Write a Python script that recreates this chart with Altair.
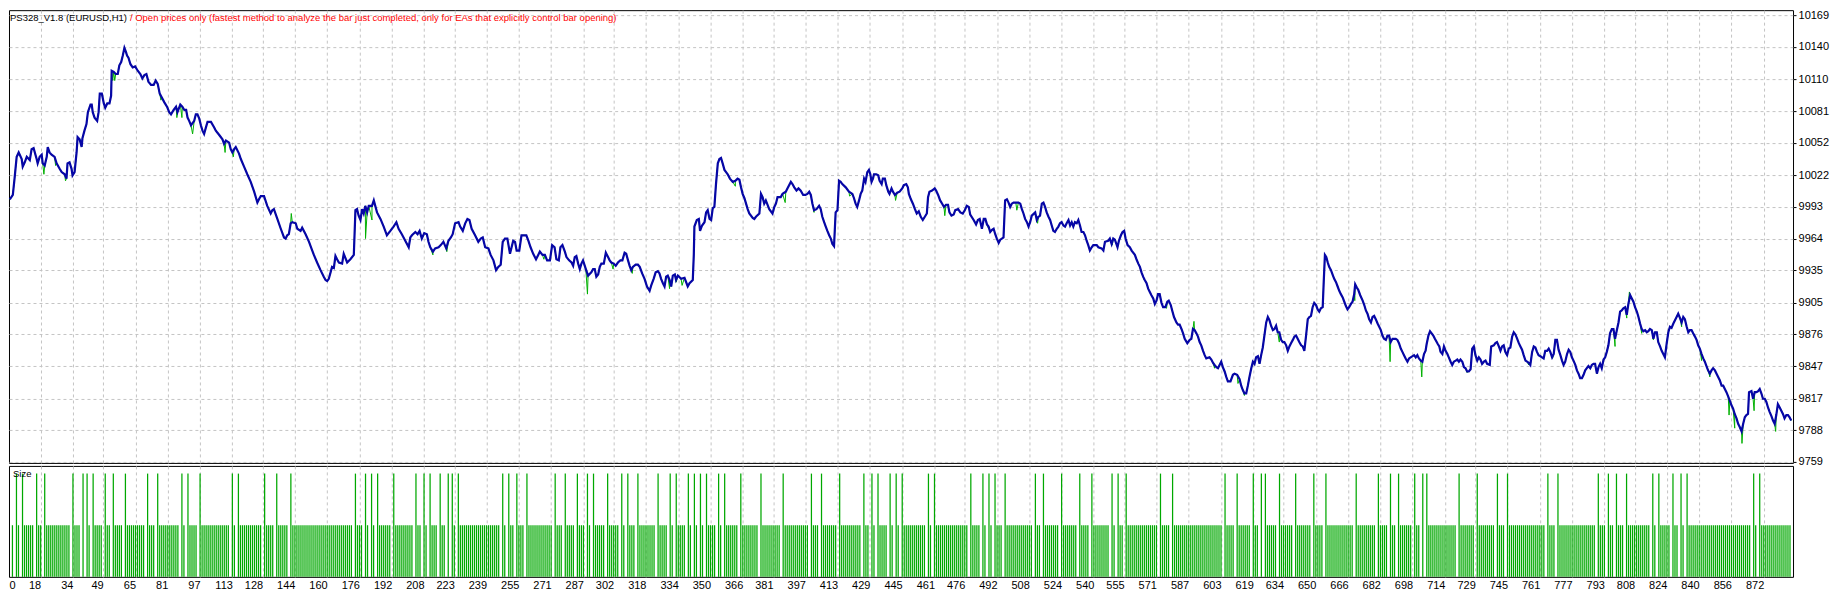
import altair as alt
import pandas as pd

# ---------------- data ----------------
trade = [
2.7,4.2,5.1,6.1,7.1,8.6,9.1,10.1,11.1,12.6,13.5,14.5,16.0,16.5,17.5,18.5,19.0,20.0,21.0,21.5,
22.4,23.4,24.9,25.9,27.4,28.4,29.9,30.8,31.3,32.3,33.3,33.8,34.8,35.8,36.3,37.3,38.3,38.7,39.7,40.7,
41.4,42.7,43.3,43.8,44.7,46.0,46.7,47.3,48.3,49.3,50.0,51.0,52.1,52.9,53.2,54.2,55.2,56.2,57.0,57.9,
58.7,59.5,60.3,60.8,61.5,62.5,63.6,64.8,66.1,67.4,68.4,69.4,70.4,71.4,72.7,74.0,75.0,76.0,77.0,77.9,
79.3,80.6,81.7,82.6,83.9,85.1,85.8,87.2,88.2,89.2,90.1,90.8,91.6,92.5,94.1,94.9,95.7,96.6,97.4,98.2,
99.0,99.9,100.7,102.4,104.0,104.8,106.5,108.1,108.9,109.8,111.4,112.2,113.0,113.9,114.7,116.3,117.2,118.8,120.4,122.1,
123.8,125.4,126.2,127.1,128.7,130.3,132.0,132.8,133.6,135.3,137.0,138.6,139.4,140.2,141.0,141.9,142.7,144.4,145.2,146.8,
147.6,149.3,151.0,152.6,153.4,155.0,156.7,158.3,159.2,160.0,160.8,161.7,162.4,163.3,164.1,164.9,165.8,167.4,168.2,169.9,
171.5,173.2,174.0,174.8,175.6,176.5,177.3,178.1,178.9,179.8,180.6,182.2,183.1,184.7,186.4,188.0,189.6,191.3,192.9,194.3,
195.4,197.0,198.7,200.4,201.2,202.0,203.7,204.8,205.8,206.9,208.1,209.4,210.2,211.1,212.4,213.5,215.2,216.3,217.6,219.0,
220.1,221.3,222.2,223.4,225.1,225.9,227.2,228.4,229.5,230.5,231.6,233.3,234.9,236.1,237.1,238.3,239.9,241.0,242.4,243.7,
244.8,246.0,247.0,248.1,249.3,250.6,251.4,252.2,253.1,253.9,255.2,256.3,257.5,258.7,259.7,260.8,262.1,263.5,264.6,265.4,
266.7,267.9,269.0,270.4,271.5,272.7,273.6,274.8,275.6,276.6,277.8,278.6,279.9,281.1,281.9,282.7,283.5,284.4,285.2,286.0,
286.8,288.2,289.3,290.9,291.8,292.6,293.4,294.3,295.1,295.9,297.1,298.1,299.2,300.0,300.8,302.0,303.0,304.1,305.3,306.3,
307.4,308.2,309.1,309.9,310.7,311.5,312.9,314.0,314.9,316.1,317.3,318.5,319.8,320.6,321.8,322.8,323.9,324.7,325.5,326.4,
327.2,328.0,328.8,329.7,330.5,331.3,332.3,332.9,333.8,335.4,337.1,338.7,339.6,341.2,341.7,342.0,343.2,344.2,344.8,345.8,
347.0,347.8,348.6,349.5,350.3,351.1,351.9,352.7,353.6,354.4,355.2,356.0,356.9,357.7,358.5,359.6,361.0,362.3,363.4,364.3,
365.1,365.9,366.8,367.6,368.4,369.2,370.9,371.7,372.5,374.2,375.0,375.8,376.6,377.4,379.1,380.7,381.6,382.4,383.2,384.8,
385.7,387.3,388.1,389.8,390.6,391.5,392.6,393.6,394.7,395.9,397.0,398.0,398.9,399.7,400.5,401.3,402.5,403.8,404.6,405.4,
406.3,407.1,407.9,408.8,409.6,410.4,411.2,412.0,412.9,413.7,414.5,415.3,417.0,418.6,420.3,421.1,421.9,422.7,423.6,424.4,
425.2,426.1,426.8,427.7,428.5,429.2,429.8,430.5,431.0,432.1,433.1,433.8,434.8,435.4,436.4,437.1,438.1,438.7,439.7,440.4,
441.4,442.5,443.7,445.0,445.8,447.0,447.8,448.3,449.3,450.3,451.3,452.2,453.2,454.2,455.2,456.2,457.2,457.8,458.5,459.8,
461.1,461.8,462.8,463.8,464.8,465.7,466.7,467.7,468.4,469.4,470.5,471.3,472.7,473.8,475.0,476.0,477.0,478.0,478.7,480.4,
481.6,482.5,483.4,484.5,485.4,486.2,487.0,487.8,488.6,489.5,490.3,491.1,491.9,492.8,493.6,494.4,495.2,496.0,496.9,497.7,
498.5,499.3,500.2,501.3,502.6,503.5,504.3,505.1,505.9,506.8,507.6,508.4,509.2,510.9,511.7,512.5,513.3,514.2,515.0,515.8,
516.6,517.5,518.3,519.1,519.9,520.7,521.6,522.4,523.2,524.0,524.9,525.7,526.5,527.4,528.2,529.0,529.8,530.6,531.5,532.3,
533.1,533.9,534.8,535.6,536.4,537.2,538.0,538.9,539.7,541.4,542.2,543.8,544.7,545.5,547.1,547.9,548.8,549.6,550.4,551.7,
552.4,553.4,554.2,555.0,555.7,556.7,557.8,558.7,560.3,561.1,562.0,562.8,563.6,564.4,565.2,566.1,566.9,567.7,568.5,569.4,
570.2,571.0,571.8,572.6,573.5,574.3,575.4,576.4,577.1,578.1,578.8,579.7,580.9,581.7,582.5,583.4,584.2,585.0,586.3,587.5,
588.3,589.1,589.9,590.8,591.6,592.4,593.2,594.1,594.9,595.7,597.3,598.2,599.0,599.8,600.7,601.5,602.3,603.1,603.9,604.8,
605.6,606.4,607.7,608.9,609.7,611.0,612.2,613.0,613.8,614.6,615.5,616.3,617.1,618.0,618.8,619.6,620.4,621.3,622.1,622.9,
623.7,624.5,625.4,626.2,627.0,627.8,628.7,629.5,630.3,631.1,631.9,632.8,633.6,634.4,635.3,636.1,636.9,637.7,638.6,639.4,
640.2,641.0,641.8,642.7,643.5,644.3,645.1,646.0,646.8,647.6,648.4,649.2,650.1,650.9,651.7,652.5,653.4,653.9,654.5,655.2,
655.9,656.6,657.5,658.3,659.1,660.0,660.8,661.6,662.4,663.3,664.1,664.9,665.7,666.5,667.4,668.2,669.0,669.5,670.3,671.0,
672.0,673.2,674.0,674.8,675.6,676.4,677.3,678.1,678.9,679.7,680.6,681.4,682.2,683.0,683.8,684.7,685.5,686.3,687.1,688.0,
689.6,690.4,691.2,692.1,692.9,693.7,694.5,695.4,696.2,697.0,698.7,699.5,700.3,701.1,702.0,702.8,703.6,704.4,704.9,705.8,
706.6,707.4,708.2,709.0,709.9,710.5,711.2,711.8,712.7,713.5,714.3,715.2,715.9,716.8,717.6,718.4,719.3,720.1,720.9,721.7,
722.6,723.4,724.2,725.0,725.8,726.7,727.5,728.3,729.1,730.0,730.8,731.6,732.4,733.3,734.1,734.9,736.2,736.9,738.2,739.0,
739.8,740.7,741.5,742.3,743.1,743.9,744.8,745.6,746.4,747.3,748.1,748.9,749.8,750.6,751.4,752.2,753.0,753.9,754.7,755.5,
756.3,757.2,758.0,758.8,759.6,760.4,761.3,762.1,762.9,763.7,764.6,765.4,766.2,767.1,767.9,768.7,769.5,770.3,771.2,772.0,
772.8,773.6,774.5,775.3,776.1,776.9,777.7,778.6,779.4,780.2,781.0,781.9,782.7,783.5,784.3,785.1,786.0,786.8,787.6,788.4,
789.3,790.1,790.9,791.7,792.6,793.4,794.2,795.0,795.8,796.7,797.5,798.3,799.2,800.0,800.8,801.6,802.4,803.3,804.1,804.9,
805.8,806.6,807.4,808.2,809.1,809.9,810.7,811.5,812.3,813.2,814.0,814.8,815.6,816.5,817.3,818.1,819.0,819.7,820.6,821.4,
822.2,823.0,823.9,824.7,825.5,826.3,827.2,828.0,828.8,829.6,830.5,831.3,832.1,832.9,833.8,834.6,835.4,836.2,837.0,837.9,
838.7,839.5,840.3,841.2,842.0,842.8,843.6,844.4,845.3,846.1,846.9,847.8,848.6,849.4,850.2,851.1,851.9,852.7,853.5,854.4,
855.2,856.0,856.8,857.6,858.5,859.3,860.1,861.0,861.8,862.6,863.4,864.2,864.7,865.9,866.7,867.5,868.4,869.2,870.0,870.8,
871.6,872.5,873.3,874.1,874.9,875.8,876.6,877.4,878.2,879.0,879.9,880.7,881.5,882.3,883.2,884.0,884.8,885.6,
]

balance = [
10000,10004,10020,10039,10043,10037,10030,10034,10039,10036,10046,10047,10037,10033,10039,10041,10033,10031,10039,10048,
10043,10041,10039,10033,10028,10025,10023,10019,10033,10034,10028,10022,10025,10043,10057,10055,10048,10056,10063,10069,
10080,10087,10087,10080,10075,10072,10080,10097,10097,10088,10084,10088,10088,10095,10118,10117,10115,10115,10123,10126,
10132,10139,10135,10132,10130,10124,10121,10122,10118,10115,10111,10114,10115,10108,10105,10105,10109,10106,10097,10094,
10089,10085,10080,10078,10082,10085,10080,10087,10085,10082,10082,10075,10072,10068,10072,10078,10078,10074,10068,10063,
10060,10066,10071,10071,10066,10063,10059,10055,10051,10054,10052,10046,10043,10046,10048,10042,10037,10030,10023,10016,
10007,9997,10000,10003,10003,9994,9987,9990,9991,9982,9973,9965,9964,9967,9968,9978,9979,9978,9973,9971,
9974,9968,9961,9953,9949,9942,9935,9929,9926,9925,9927,9933,9938,9937,9948,9945,9942,9941,9950,9942,
9945,9949,9990,9991,9985,9981,9991,9987,9994,9988,9994,9994,9999,9988,9982,9975,9967,9971,9975,9979,
9973,9968,9962,9956,9965,9967,9970,9968,9971,9964,9969,9968,9961,9956,9952,9955,9956,9958,9961,9955,
9962,9965,9968,9978,9979,9975,9971,9978,9982,9981,9973,9967,9961,9964,9965,9956,9955,9949,9944,9935,
9938,9940,9961,9964,9964,9950,9956,9962,9961,9953,9953,9967,9967,9967,9962,9956,9950,9945,9949,9952,
9949,9949,9944,9944,9958,9956,9945,9944,9956,9958,9952,9947,9944,9942,9939,9947,9948,9941,9936,9941,
9944,9936,9930,9933,9936,9936,9929,9931,9938,9941,9941,9951,9947,9944,9942,9941,9939,9942,9944,9944,
9951,9950,9944,9939,9935,9938,9940,9940,9938,9932,9927,9920,9916,9921,9927,9933,9934,9932,9927,9923,
9920,9929,9930,9926,9920,9930,9931,9926,9930,9927,9928,9920,9923,9926,9949,9975,9981,9982,9971,9976,
9979,9988,9990,9982,9981,9992,9993,10014,10033,10037,10038,10033,10027,10025,10023,10019,10016,10017,10019,10018,
10011,10005,10001,9996,9991,9987,9983,9982,9984,9987,10005,10002,9996,9999,9991,9987,9993,9996,10002,10002,
10005,10007,10010,10016,10014,10011,10008,10010,10008,10004,10004,10005,10007,10004,9996,9990,9991,9994,9991,9984,
9979,9975,9971,9967,9964,9959,9957,9988,9990,10017,10016,10014,10011,10007,10005,10001,9996,9993,9999,10005,
10008,10019,10016,10025,10027,10023,10016,10019,10023,10023,10022,10017,10014,10019,10019,10013,10007,10005,10010,10007,
10004,10006,10007,10010,10013,10014,10011,10005,10000,9996,9991,9987,9989,9984,9981,9984,9987,10002,10007,10008,
10010,10008,10004,9999,9996,9993,9995,9995,9988,9985,9986,9990,9991,9988,9987,9990,9994,9993,9986,9981,
9977,9981,9982,9973,9982,9982,9977,9975,9970,9972,9973,9968,9964,9960,9963,9964,9965,9999,10000,9997,
9993,9996,9997,9997,9997,9996,9991,9987,9982,9979,9975,9979,9985,9988,9981,9984,9985,9996,9997,9993,
9988,9984,9981,9976,9971,9970,9973,9975,9978,9979,9976,9975,9978,9981,9976,9979,9975,9979,9978,9981,
9976,9970,9970,9967,9962,9958,9953,9956,9958,9958,9956,9955,9953,9961,9962,9964,9959,9964,9963,9956,
9962,9967,9970,9971,9964,9958,9956,9953,9949,9945,9941,9938,9933,9929,9926,9923,9918,9915,9912,9909,
9904,9907,9913,9913,9905,9901,9901,9906,9907,9903,9898,9892,9887,9885,9885,9881,9877,9872,9868,9871,
9872,9881,9880,9877,9874,9869,9866,9861,9857,9854,9855,9853,9850,9848,9846,9845,9848,9851,9846,9842,
9837,9833,9833,9839,9840,9839,9835,9829,9825,9822,9822,9829,9837,9845,9851,9849,9855,9856,9849,9857,
9864,9875,9887,9892,9889,9884,9880,9881,9884,9878,9878,9871,9869,9869,9866,9861,9865,9868,9871,9874,
9875,9872,9869,9866,9865,9861,9874,9890,9892,9893,9901,9905,9903,9899,9897,9900,9901,9924,9949,9947,
9942,9938,9935,9931,9927,9924,9920,9916,9913,9910,9906,9902,9899,9901,9904,9906,9913,9922,9919,9917,
9912,9907,9903,9898,9895,9890,9887,9892,9893,9890,9886,9883,9880,9875,9872,9871,9875,9875,9869,9872,
9872,9871,9868,9863,9860,9857,9854,9851,9854,9855,9857,9855,9857,9854,9852,9851,9858,9861,9867,9875,
9879,9877,9875,9872,9869,9867,9865,9860,9858,9865,9861,9858,9855,9851,9848,9851,9852,9853,9851,9853,
9851,9846,9845,9842,9842,9844,9863,9865,9857,9852,9855,9853,9849,9851,9852,9849,9848,9865,9866,9868,
9869,9865,9861,9865,9866,9860,9857,9863,9864,9874,9878,9876,9872,9868,9865,9862,9857,9852,9851,9850,
9848,9860,9865,9864,9860,9857,9856,9855,9854,9861,9861,9863,9860,9855,9858,9871,9871,9862,9857,9852,
9848,9851,9858,9862,9860,9855,9852,9848,9843,9840,9836,9836,9839,9843,9845,9847,9845,9848,9849,9849,
9840,9846,9849,9845,9853,9855,9860,9866,9877,9881,9881,9872,9880,9887,9897,9898,9900,9901,9894,9904,
9912,9909,9906,9901,9897,9892,9886,9881,9879,9880,9878,9879,9881,9880,9872,9878,9878,9869,9865,9861,
9858,9855,9868,9878,9883,9882,9886,9889,9892,9895,9891,9887,9892,9890,9883,9878,9880,9880,9877,9874,
9871,9866,9863,9858,9854,9851,9847,9843,9840,9843,9845,9843,9840,9837,9834,9829,9829,9826,9823,9819,
9815,9811,9808,9803,9799,9794,9791,9787,9794,9800,9802,9803,9823,9824,9817,9823,9823,9824,9826,9822,
9817,9817,9814,9809,9805,9801,9797,9794,9802,9812,9809,9806,9803,9799,9802,9802,9800,9797,
]

# equity points that leave the balance line (spikes)
eq_dip_trade = [19.6, 25.4, 30.3, 53.7, 54.7, 77.6, 85.5, 88.0, 93.3, 109.4, 113.5, 142.2, 179.0, 182.2,
                212.4, 219.3, 267.4, 289.0, 301.7, 311.2, 329.7, 333.0, 335.9, 362.3, 387.0, 401.3, 418.9,
                441.7, 466.1, 487.8, 501.8, 512.1, 549.1, 564.9, 576.0, 589.6, 599.8, 611.4, 614.6, 631.9,
                669.3, 686.8, 702.5, 725.0, 744.5, 755.5, 767.3, 782.7, 798.3, 804.1, 805.4, 811.5, 817.3,
                831.3, 841.2, 845.3, 854.8, 857.6, 861.2, 867.2, 877.9]
eq_dip_value = [10023, 10031, 10017, 10109, 10109, 10091, 10075, 10075, 10060, 10043, 10039, 9987, 9964, 9981,
                9949, 9952, 9945, 9913, 9936, 9932, 9918, 9924, 9921, 10012, 9997, 9988, 10003,
                9999, 9985, 9973, 9990, 9978, 9958, 9926, 9900, 9888, 9845, 9831, 9820, 9869,
                9907, 9851, 9837, 9841, 9857, 9848, 9854, 9840, 9865, 9891, 9915, 9877, 9871,
                9883, 9852, 9837, 9802, 9790, 9776, 9806, 9787]

# size histogram
first_trade, last_trade = 4, 885
tall_trades = [6, 9, 16, 20, 34, 39, 41, 44, 50, 54, 60, 71, 76, 88, 91, 97, 113, 116, 129, 135, 142, 174, 179,
               182, 185, 193, 204, 208, 211, 216, 220, 222, 225, 247, 250, 254, 259, 273, 278, 284, 289, 292,
               299, 306, 309, 314, 324, 330, 333, 339, 342, 345, 348, 354, 357, 365, 375, 386, 400, 405, 414,
               426, 430, 433, 439, 442, 445, 458, 461, 479, 485, 488, 491, 496, 511, 515, 524, 533, 539, 549,
               552, 556, 573, 579, 605, 611, 619, 623, 625, 632, 640, 649, 655, 670, 681, 687, 691, 699, 703,
               705, 721, 730, 740, 745, 765, 770, 790, 795, 799, 804, 817, 820, 827, 831, 834, 867, 870]
gap_trades = [5, 8, 15, 19, 33, 38, 40, 43, 49, 53, 59, 70, 75, 87, 90, 96, 112, 115, 128, 134, 141, 173, 178,
              181, 184, 192, 203, 207, 210, 215, 219, 221, 224, 246, 249, 253, 258, 272, 277, 283, 288, 291,
              298, 305, 308, 313, 323, 329, 332, 338, 341, 344, 347, 353, 356, 364, 374, 385, 399, 404, 413,
              425, 429, 432, 438, 441, 444, 457, 460, 478, 484, 487, 490, 495, 510, 514, 523, 532, 538, 548,
              551, 555, 572, 578, 604, 610, 618, 622, 624, 631, 639, 648, 654, 669, 680, 686, 690, 698, 702,
              704, 720, 729, 739, 744, 764, 769, 789, 794, 798, 803, 816, 819, 826, 830, 833, 866, 869]

x_tick_values = [18, 34, 49, 65, 81, 97, 113, 128, 144, 160, 176, 192, 208, 223, 239, 255, 271, 287, 302, 318,
                 334, 350, 366, 381, 397, 413, 429, 445, 461, 476, 492, 508, 524, 540, 555, 571, 587, 603, 619,
                 634, 650, 666, 682, 698, 714, 729, 745, 761, 777, 793, 808, 824, 840, 856, 872]
y_tick_values = [10169, 10140, 10110, 10081, 10052, 10022, 9993, 9964, 9935, 9905, 9876, 9847, 9817, 9788, 9759]

title_black = "PS328_V1.8 (EURUSD,H1)"
title_red = "/ Open prices only (fastest method to analyze the bar just completed, only for EAs that explicitly control bar opening)"
size_title = "Size"

# ---------------- tables ----------------
bal_df = pd.DataFrame({"trade": trade, "value": balance[:len(trade)]})
eq_rows = sorted(list(zip(trade, balance)) + list(zip(eq_dip_trade, eq_dip_value)))
eq_df = pd.DataFrame(eq_rows, columns=["trade", "value"])

tall_set, gap_set = set(tall_trades), set(gap_trades)
size_rows = [(t, 2 if t in tall_set else 1) for t in range(first_trade, last_trade + 1) if t not in gap_set]
size_df = pd.DataFrame(size_rows, columns=["trade", "size"])

# ---------------- style ----------------
FONT = "Liberation Sans"
W, H_MAIN, H_SIZE = 1785, 453, 111
X_DOMAIN = [2.3, 886.5]
Y_DOMAIN = [9758.1, 10173.6]
BLUE = "#0606a6"
GREEN = "#00b000"
BAR_GREEN = "#00a800"
GRID = dict(grid=True, gridColor="#c4c4c4", gridDash=[3, 3], gridWidth=1)

xscale = alt.Scale(domain=X_DOMAIN, nice=False, zero=False)
yscale = alt.Scale(domain=Y_DOMAIN, nice=False, zero=False)

x_main = alt.X("trade:Q", scale=xscale,
               axis=alt.Axis(values=x_tick_values, labels=False, ticks=False, domain=False, title=None, **GRID))
y_main = alt.Y("value:Q", scale=yscale,
               axis=alt.Axis(orient="right", values=y_tick_values, format="d", title=None, domain=False,
                             ticks=True, tickSize=3, tickColor="black", labelPadding=2, labelFontSize=11,
                             labelColor="black", labelFont=FONT, labelFlush=False, labelOverlap=False, **GRID))

eq_line = alt.Chart(eq_df).mark_line(color=GREEN, strokeWidth=1, clip=True).encode(x=x_main, y=y_main)
bal_line = alt.Chart(bal_df).mark_line(color=BLUE, strokeWidth=2.2, clip=True).encode(x=x_main, y=y_main)

t_black = alt.Chart(pd.DataFrame({"t": [title_black]})).mark_text(
    align="left", baseline="middle", font=FONT, fontSize=9.5, color="black"
).encode(text="t:N", x=alt.value(1), y=alt.value(8))
t_red = alt.Chart(pd.DataFrame({"t": [title_red]})).mark_text(
    align="left", baseline="middle", font=FONT, fontSize=9.5, color="#ff0000"
).encode(text="t:N", x=alt.value(121), y=alt.value(8))

main = alt.layer(eq_line, bal_line, t_black, t_red).properties(width=W, height=H_MAIN)

x_size = alt.X("trade:Q", scale=xscale,
               axis=alt.Axis(values=[X_DOMAIN[0]] + x_tick_values,
                             labelExpr="datum.value < 3 ? '0' : datum.label",
                             labelAlign={"condition": {"test": "datum.value < 3", "value": "left"}, "value": "right"},
                             gridOpacity={"condition": {"test": "datum.value < 3", "value": 0}, "value": 1},
                             labelBaseline="top", labelPadding=3, ticks=False, domain=False, title=None,
                             labelFontSize=11, labelFont=FONT, labelColor="black",
                             labelFlush=False, labelOverlap=False, **GRID))
y_size = alt.Y("size:Q", scale=alt.Scale(domain=[0, 2.149], nice=False, zero=True), axis=None)

bars = alt.Chart(size_df).mark_rule(color=BAR_GREEN, strokeWidth=1.25).encode(x=x_size, y=y_size, y2=alt.datum(0))
size_lbl = alt.Chart(pd.DataFrame({"t": [size_title]})).mark_text(
    align="left", baseline="middle", font=FONT, fontSize=9.5, color="black"
).encode(text="t:N", x=alt.value(4), y=alt.value(8))

size_panel = alt.layer(bars, size_lbl).properties(width=W, height=H_SIZE)

chart = (
    alt.vconcat(main, size_panel, spacing=3, bounds="flush")
    .properties(padding=0, background="white")
    .configure_view(stroke="black", strokeWidth=1)
)

chart.save("out.html", embed_options={"renderer": "svg", "actions": False})
